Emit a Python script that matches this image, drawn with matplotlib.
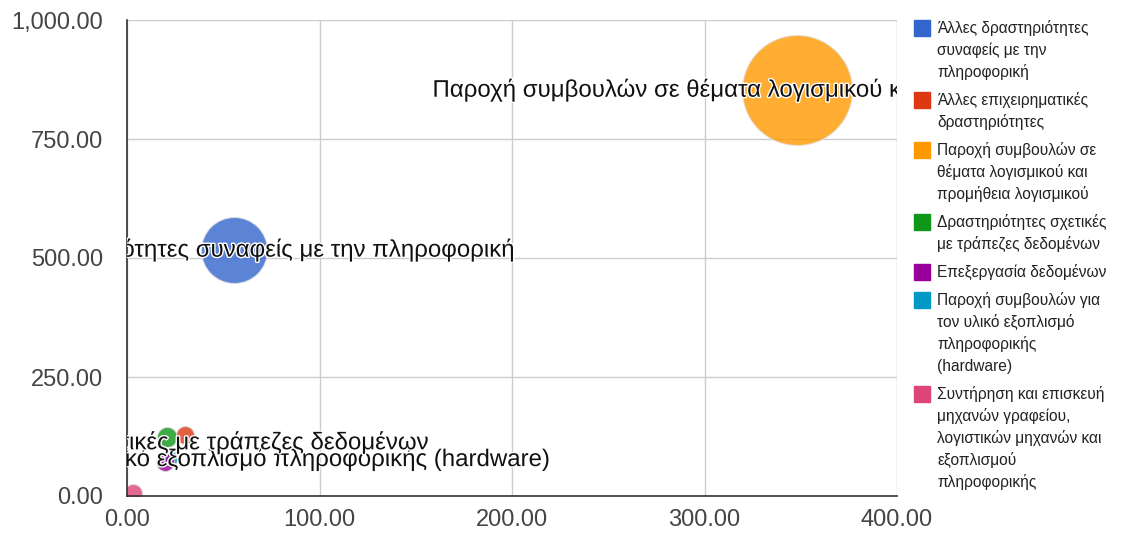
import matplotlib.pyplot as plt
import matplotlib.patheffects as pe
import matplotlib.transforms as mtransforms
from matplotlib.patches import Rectangle
from matplotlib.ticker import FuncFormatter

plt.rcParams['font.family'] = ['Liberation Sans', 'DejaVu Sans']

# data
names = [
    "Άλλες δραστηριότητες συναφείς με την πληροφορική",
    "Άλλες επιχειρηματικές δραστηριότητες",
    "Παροχή συμβουλών σε θέματα λογισμικού και προμήθεια λογισμικού",
    "Δραστηριότητες σχετικές με τράπεζες δεδομένων",
    "Επεξεργασία δεδομένων",
    "Παροχή συμβουλών για τον υλικό εξοπλισμό πληροφορικής (hardware)",
    "Συντήρηση και επισκευή μηχανών γραφείου, λογιστικών μηχανών και εξοπλισμού πληροφορικής",
]
legend_lines = [
    ["Άλλες δραστηριότητες", "συναφείς με την", "πληροφορική"],
    ["Άλλες επιχειρηματικές", "δραστηριότητες"],
    ["Παροχή συμβουλών σε", "θέματα λογισμικού και", "προμήθεια λογισμικού"],
    ["Δραστηριότητες σχετικές", "με τράπεζες δεδομένων"],
    ["Επεξεργασία δεδομένων"],
    ["Παροχή συμβουλών για", "τον υλικό εξοπλισμό", "πληροφορικής", "(hardware)"],
    ["Συντήρηση και επισκευή", "μηχανών γραφείου,", "λογιστικών μηχανών και", "εξοπλισμού", "πληροφορικής"],
]
x_vals = [55.6, 30, 348, 21, 19.7, 23, 3]
y_vals = [517, 128, 853, 124, 71, 80, 6]
bubble_size = [33, 9, 55, 10, 9, 7, 9]
colors = ['#3366cc', '#dc3912', '#ff9900', '#109618', '#990099', '#0099c6', '#dd4477']

W, H, DPI = 1126, 535, 100
fig = plt.figure(figsize=(W / DPI, H / DPI), dpi=DPI)
ax = fig.add_axes([127 / W, 1 - 496 / H, (897 - 127) / W, (496 - 20) / H])

# cyan first so it sits under the others, then big ones under small ones
order = sorted(range(len(names)), key=lambda i: -bubble_size[i])
order.remove(5)
order = [5] + order
for i in order:
    d = 2 * bubble_size[i] * 72 / DPI
    ax.scatter(x_vals[i], y_vals[i], s=d ** 2, color=colors[i], alpha=0.8,
               edgecolors='#e0e0e0', linewidths=0.8, zorder=3)

# labels that google chart kept (others hidden because they overlap)
label_shift = {5: -1, 0: 0, 2: 0, 3: -4}
for i in [5, 0, 2, 3]:
    tr = mtransforms.offset_copy(ax.transData, fig=fig, x=0, y=label_shift[i], units='points')
    t = ax.text(x_vals[i], y_vals[i], names[i], transform=tr, ha='center', va='center',
                fontsize=17.3, color='#111111', zorder=5, clip_on=True)
    t.set_path_effects([pe.withStroke(linewidth=2, foreground='white')])

ax.set_xlim(0, 400)
ax.set_ylim(0, 1000)
ax.set_xticks([0, 100, 200, 300, 400])
ax.set_yticks([0, 250, 500, 750, 1000])
fmt = FuncFormatter(lambda v, p: f"{v:,.2f}")
ax.xaxis.set_major_formatter(fmt)
ax.yaxis.set_major_formatter(fmt)
ax.tick_params(length=0, labelsize=17, labelcolor='#444444')
ax.tick_params(axis='y', pad=17)
ax.tick_params(axis='x', pad=9)
ax.grid(True, color='#cccccc', linewidth=1)
ax.set_axisbelow(True)
for s in ['top', 'right']:
    ax.spines[s].set_visible(False)
for s in ['left', 'bottom']:
    ax.spines[s].set_color('#333333')
    ax.spines[s].set_linewidth(1.2)
    ax.spines[s].set_zorder(4)

# legend on the right, drawn by hand so the square sits on the first line
ypix = 28
for lines, c in zip(legend_lines, colors):
    fig.patches.append(Rectangle((914 / W, 1 - (ypix + 8) / H), 16 / W, 16 / H,
                                 transform=fig.transFigure, color=c))
    for ln in lines:
        fig.text(937 / W, 1 - ypix / H, ln, ha='left', va='center',
                 fontsize=11.2, color='#222222')
        ypix += 22
    ypix += 6

fig.savefig('out.png', dpi=DPI)
